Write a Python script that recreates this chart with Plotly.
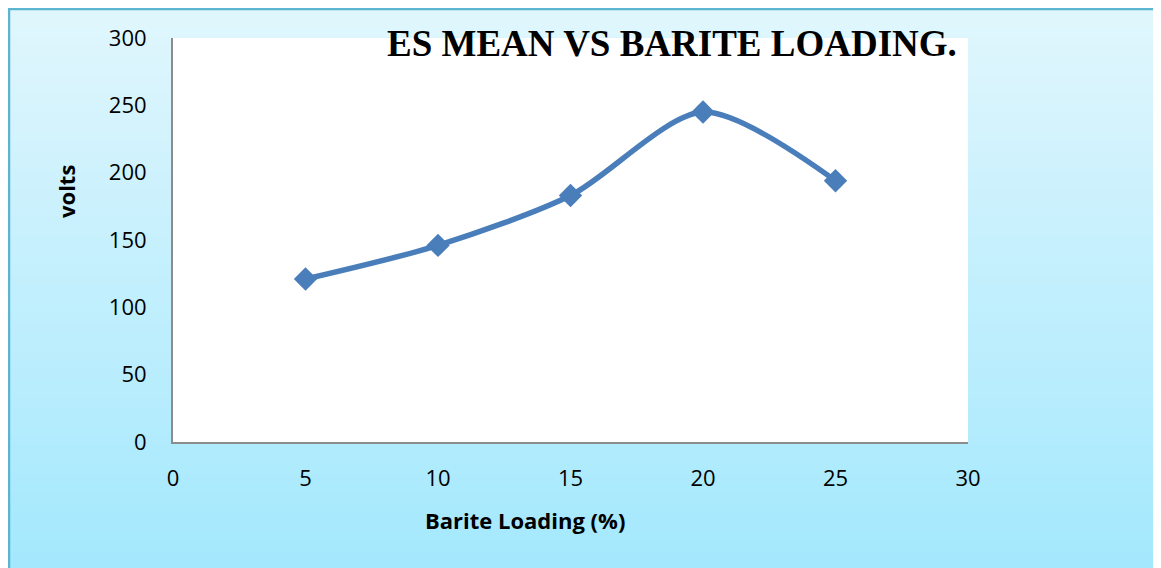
import plotly.graph_objects as go

barite_loading = [5, 10, 15, 20, 25]
es_mean_volts = [121, 146, 183, 245, 194]
x_ticks = [0, 5, 10, 15, 20, 25, 30]
y_ticks = [0, 50, 100, 150, 200, 250, 300]

W, H = 1160, 566
L, R, T, B = 165, 960, 30, 434

def px(x):
    return (x - L) / (R - L)

def py(y):
    return (B - y) / (B - T)

fig = go.Figure()
fig.add_trace(go.Scatter(
    x=barite_loading, y=es_mean_volts, mode="lines+markers",
    line=dict(color="#4A7EBB", width=5.5, shape="spline", smoothing=0.8),
    marker=dict(symbol="diamond", size=18, color="#4A7EBB"),
    cliponaxis=False, showlegend=False,
))

shapes = []
top_c = (0xE0, 0xF6, 0xFD)
bot_c = (0xA3, 0xE8, 0xFD)
n = 60
y0, y1 = 0, H + 5
for i in range(n):
    a = y0 + (y1 - y0) * i / n
    b = y0 + (y1 - y0) * (i + 1) / n + 0.8
    t = i / (n - 1)
    c = tuple(round(top_c[k] + (bot_c[k] - top_c[k]) * t) for k in range(3))
    shapes.append(dict(type="rect", xref="paper", yref="paper", layer="below",
                       x0=px(-2), x1=px(W + 5), y0=py(a), y1=py(b),
                       fillcolor="rgb(%d,%d,%d)" % c, line=dict(width=0)))
shapes.append(dict(type="rect", xref="paper", yref="paper", layer="below",
                   x0=px(L), x1=px(R), y0=0, y1=1, fillcolor="white", line=dict(width=0)))
# top and left frame lines
shapes.append(dict(type="line", xref="paper", yref="paper", layer="below",
                   x0=px(0), x1=px(W + 5), y0=py(1), y1=py(1),
                   line=dict(color="#5BB5CF", width=2.5)))
shapes.append(dict(type="line", xref="paper", yref="paper", layer="below",
                   x0=px(1), x1=px(1), y0=py(0), y1=py(H + 5),
                   line=dict(color="#5BB5CF", width=2.5)))

tick_font = dict(family="Open Sans, Lato, sans-serif", size=22, color="black")
fig.update_layout(
    width=W, height=H,
    margin=dict(l=L, r=W - R, t=T, b=H - B, pad=0),
    paper_bgcolor="#C0EFFD", plot_bgcolor="rgba(0,0,0,0)",
    shapes=shapes,
    xaxis=dict(range=[0, 30], tickvals=x_ticks, showgrid=False, zeroline=False,
               showline=True, linecolor="#8C8C8C", linewidth=2, ticks="",
               tickfont=tick_font, ticklabelstandoff=16),
    yaxis=dict(range=[0, 300], tickvals=y_ticks, showgrid=False, zeroline=False,
               showline=True, linecolor="#8C8C8C", linewidth=2, ticks="",
               tickfont=tick_font, ticklabelstandoff=20),
    annotations=[
        dict(text="<b>ES MEAN VS BARITE LOADING.</b>", xref="paper", yref="paper",
             x=px(951), y=py(35), xanchor="right", yanchor="middle", showarrow=False,
             font=dict(family="Liberation Serif, Times New Roman, serif", size=37, color="black")),
        dict(text="<b>volts</b>", xref="paper", yref="paper", x=px(58), y=py(184),
             xanchor="center", yanchor="middle", textangle=-90, showarrow=False,
             font=dict(family="Open Sans, Lato, sans-serif", size=22, color="black")),
        dict(text="<b>Barite Loading (%)</b>", xref="paper", yref="paper", x=px(517), y=py(512),
             xanchor="center", yanchor="middle", showarrow=False,
             font=dict(family="Open Sans, Lato, sans-serif", size=22, color="black")),
    ],
)
fig.write_html(
    "out.html",
    post_script="document.documentElement.style.overflow='hidden';"
                "document.body.style.overflow='hidden';",
)
